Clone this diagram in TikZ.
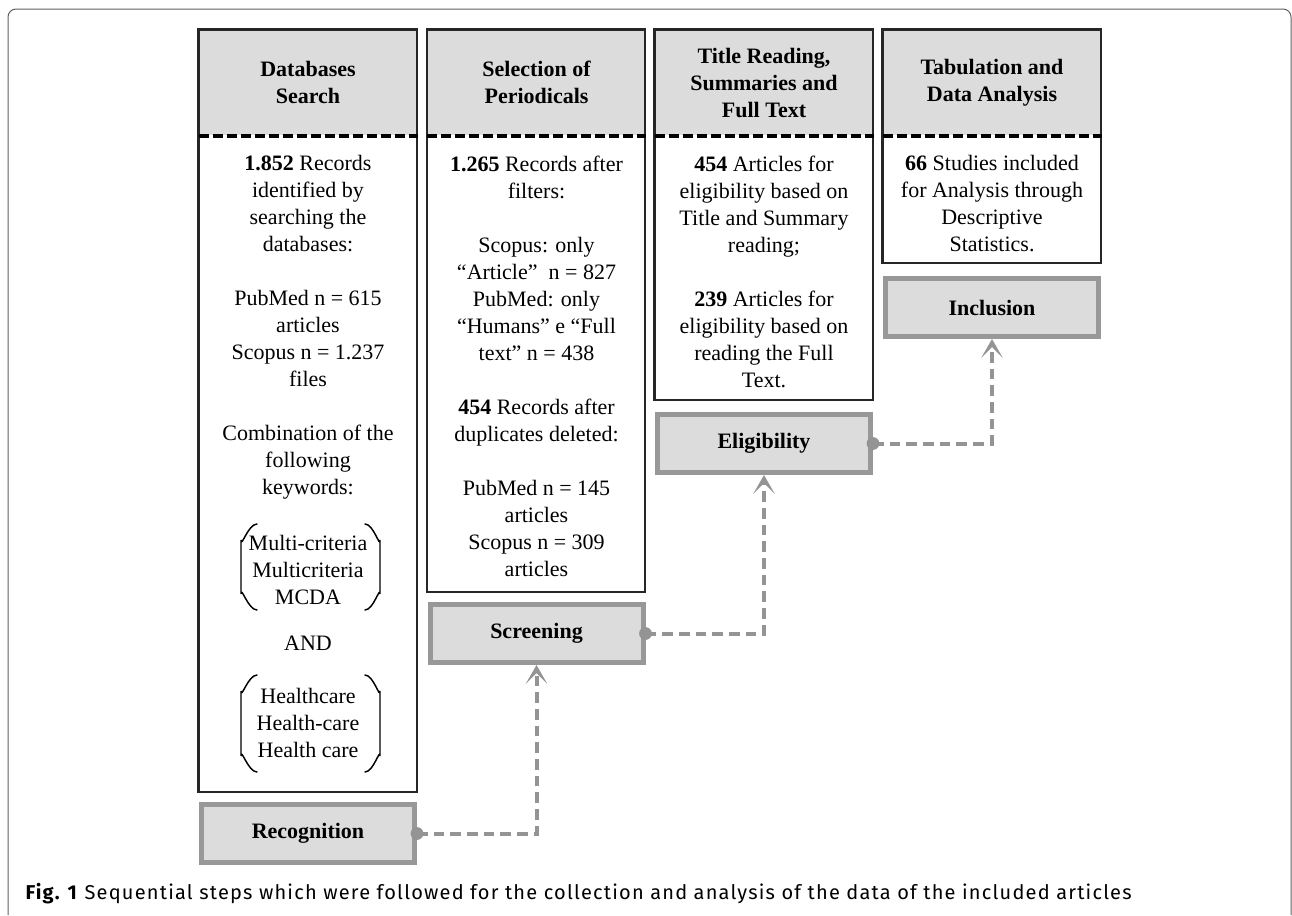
\documentclass[tikz,border=0pt]{standalone}
\usepackage{fontspec}
\setmainfont{Liberation Serif}
\newfontfamily\capfont[LetterSpace=6]{Fira Sans}
\usetikzlibrary{arrows.meta}

\definecolor{boxgray}{RGB}{220,220,220}
\definecolor{stagegray}{RGB}{152,152,152}
\definecolor{linkgray}{RGB}{148,148,148}
\definecolor{framegray}{RGB}{95,95,95}

\tikzset{every picture/.style={line width=0.75pt}}
\tikzset{
  hdr/.style={fill=boxgray, minimum width=163.5pt, minimum height=78.75pt, inner sep=0pt, align=center, font=\fontsize{16.5}{20.25}\selectfont\bfseries},
  bodytxt/.style={anchor=north, inner sep=0pt, align=center, font=\fontsize{16.5}{20.25}\selectfont},
  colframe/.style={draw=black!85, line width=2.2pt},
  hsep/.style={draw=black, line width=3pt, dash pattern=on 7.5pt off 3pt},
  stage/.style={draw=stagegray, line width=3.75pt, fill=boxgray, minimum width=159.75pt, minimum height=43.5pt, inner sep=0pt, font=\fontsize{16.5}{20.25}\selectfont\bfseries},
  link/.style={draw=linkgray, line width=3pt, dash pattern=on 8pt off 4.5pt, -{Stealth[length=14pt,width=16pt,inset=8pt]}},
  brk/.style={line width=1.1pt, line cap=round},
}

\begin{document}
\begin{tikzpicture}[x=0.75pt,y=0.75pt,yscale=-1,xscale=1]
\useasboundingbox (0,0) rectangle (1292,915);

%Shape: Frame
\draw[framegray, rounded corners=6pt] (8,915) -- (8,9) -- (1291,9) -- (1291,915);

%Shape: Column 1 (Databases Search)
\node[hdr] (hd1) at (308,82.5) {Databases\\Search};
\draw[colframe] (hd1.north west) rectangle (417,792);
\draw[hsep] (hd1.south west) -- (hd1.south east);
% Text Node
\node[bodytxt] (tx1) at (308,155) {\textbf{1.852} Records\\identified by\\searching the\\databases:\\[20.25pt]
  PubMed n = 615\\articles\\Scopus n = 1.237\\files\\[20.25pt]
  Combination of the\\following\\keywords:};
% Text Node
\node[bodytxt] (kw1) at (308,535) {Multi-criteria\\Multicriteria\\MCDA};
\node[bodytxt, anchor=center] (and) at (308,643) {AND};
\node[bodytxt] (kw2) at (308,688) {Healthcare\\Health-care\\Health care};
%Shape: Brackets
\draw[brk] (257,524) to[out=180,in=90] (241,540) -- (241,594) to[out=-90,in=180] (257,610);
\draw[brk] (365,524) to[out=0,in=90] (380,540) -- (380,594) to[out=-90,in=0] (365,610);
\draw[brk] (257,675) to[out=180,in=90] (241,691) -- (241,756) to[out=-90,in=180] (257,772);
\draw[brk] (365,675) to[out=0,in=90] (380,691) -- (380,756) to[out=-90,in=0] (365,772);

%Shape: Column 2 (Selection of Periodicals)
\node[hdr] (hd2) at (536.5,82.5) {Selection of\\Periodicals};
\draw[colframe] (hd2.north west) rectangle (645,592);
\draw[hsep] (hd2.south west) -- (hd2.south east);
% Text Node
\node[bodytxt] (tx2) at (536.5,155) {\textbf{1.265} Records after\\filters:\\[20.25pt]
  Scopus: only\\“Article”\ \ n = 827\\PubMed: only\\“Humans” e “Full\\text” n = 438\\[20.25pt]
  \textbf{454} Records after\\duplicates deleted:\\[20.25pt]
  PubMed n = 145\\articles\\Scopus n = 309\\articles};

%Shape: Column 3 (Title Reading)
\node[hdr] (hd3) at (764,82.5) {Title Reading,\\Summaries and\\Full Text};
\draw[colframe] (hd3.north west) rectangle (873,400);
\draw[hsep] (hd3.south west) -- (hd3.south east);
% Text Node
\node[bodytxt] (tx3) at (764,155) {\textbf{454} Articles for\\eligibility based on\\Title and Summary\\reading;\\[20.25pt]
  \textbf{239} Articles for\\eligibility based on\\reading the Full\\Text.};

%Shape: Column 4 (Tabulation)
\node[hdr] (hd4) at (992,82.5) {Tabulation and\\Data Analysis};
\draw[colframe] (hd4.north west) rectangle (1101,263);
\draw[hsep] (hd4.south west) -- (hd4.south east);
% Text Node
\node[bodytxt] (tx4) at (992,155) {\textbf{66} Studies included\\for Analysis through\\Descriptive\\Statistics.};

%Shape: Stage boxes
\node[stage] (st1) at (308,833.5) {Recognition};
\node[stage] (st2) at (536.5,633.5) {Screening};
\node[stage] (st3) at (764,443.5) {Eligibility};
\node[stage] (st4) at (992,307.5) {Inclusion};

%Straight Lines: links between stages
\draw[link] (st1.east) -| (st2.south);
\draw[link] (st2.east) -| (st3.south);
\draw[link] (st3.east) -| (st4.south);
\fill[linkgray] (st1.east) circle (4.8pt);
\fill[linkgray] (st2.east) circle (4.8pt);
\fill[linkgray] (st3.east) circle (4.8pt);

% Text Node
\node[anchor=base west, inner sep=0pt, font=\capfont\fontsize{15}{17}\selectfont] (cap) at (25,899) {\textbf{Fig. 1} Sequential steps which were followed for the collection and analysis of the data of the included articles};

\end{tikzpicture}
\end{document}
